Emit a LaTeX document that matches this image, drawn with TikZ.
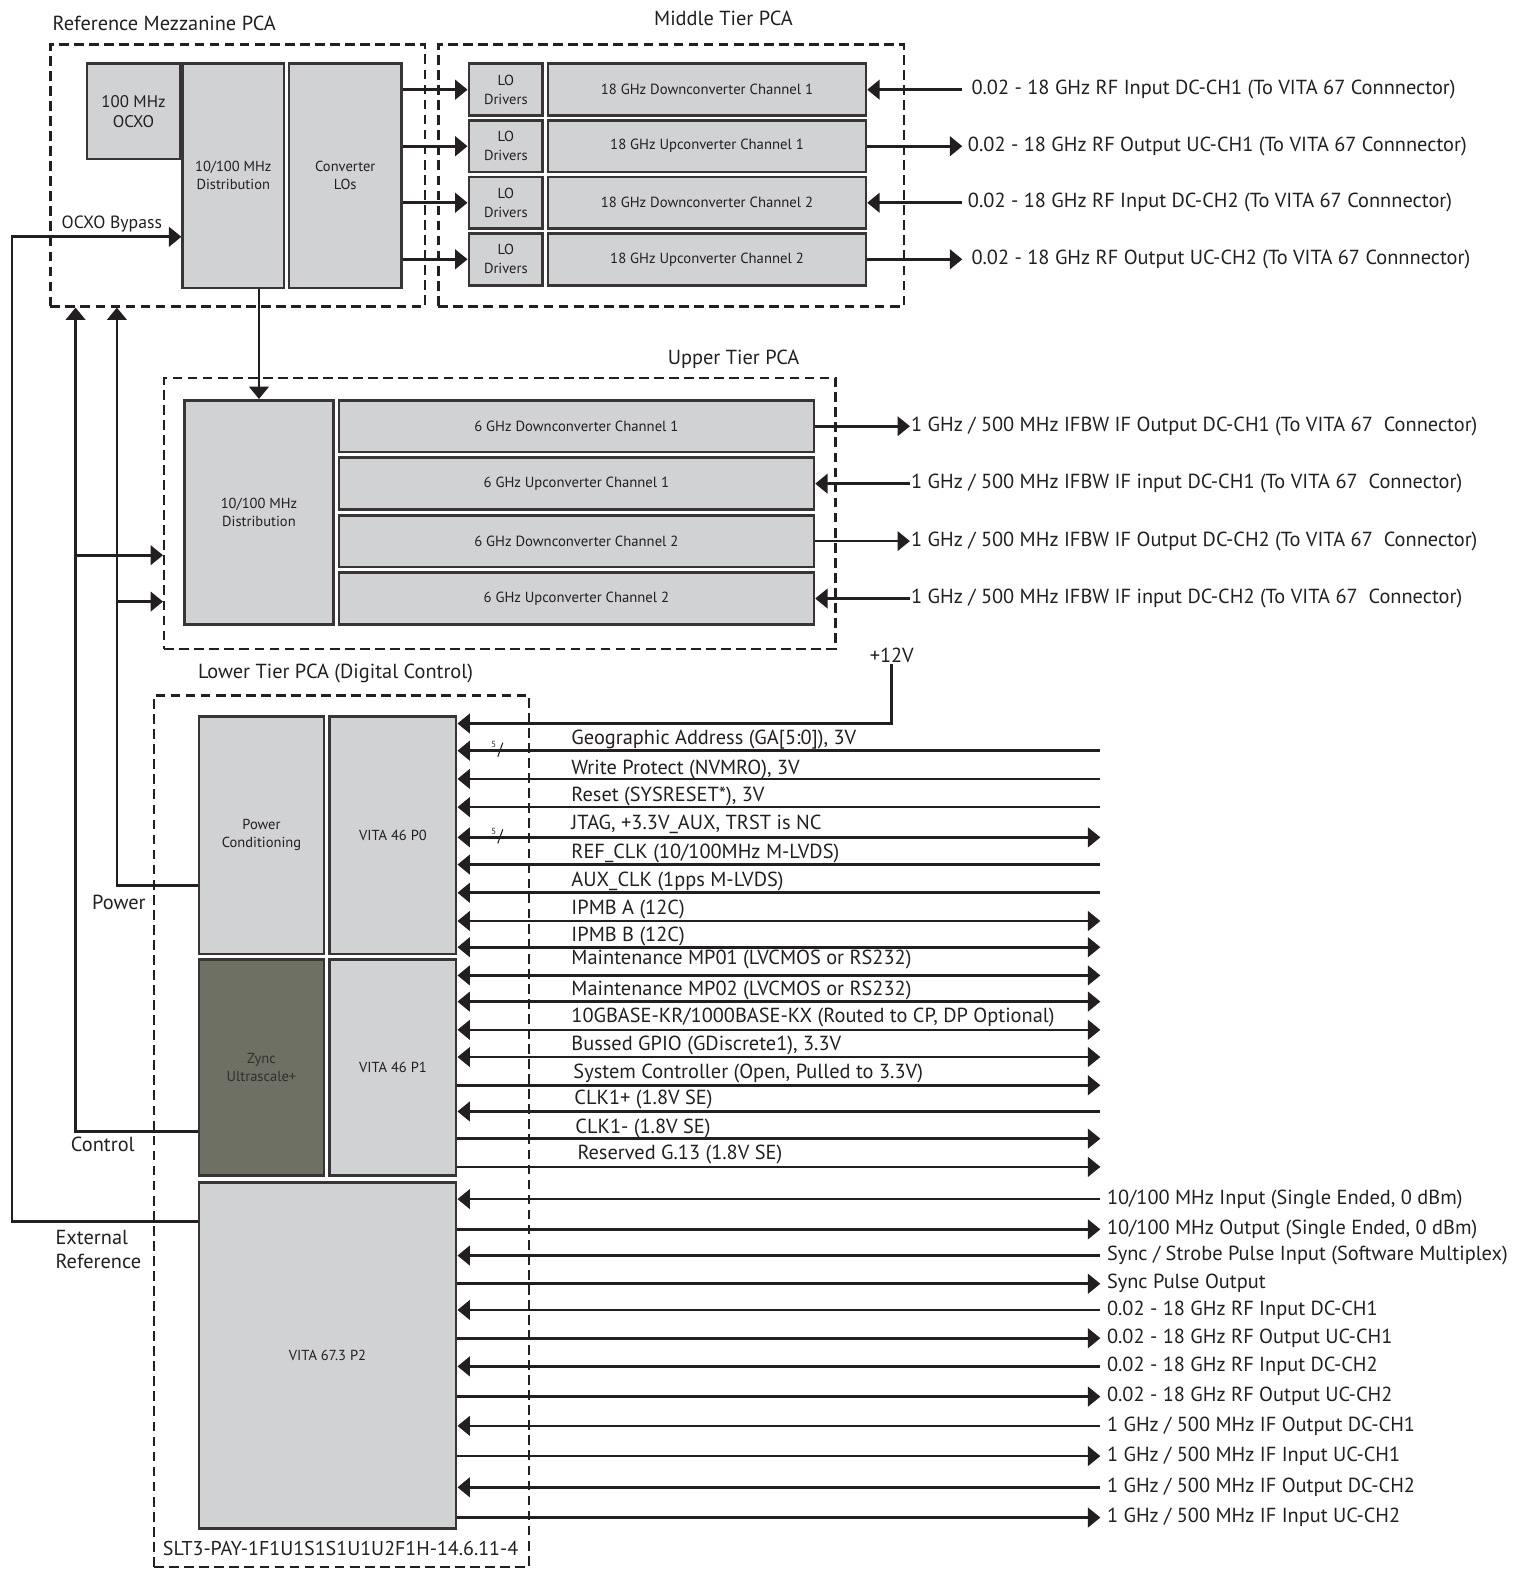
\documentclass[tikz,border=0pt]{standalone}
\usepackage{fontspec}
\setmainfont{PT Sans}
\usetikzlibrary{arrows.meta, positioning, fit, calc}

\definecolor{ink}{RGB}{35,31,32}
\definecolor{boxgray}{RGB}{209,210,212}
\definecolor{zyncgray}{RGB}{110,112,99}

\begin{document}
\begin{tikzpicture}[
    x=0.02cm, y=-0.02cm,
    % --- Sizes (in picture units, outer edge) ---
    sz/.style 2 args = {minimum width=#1*0.02cm-1.5pt, minimum height=#2*0.02cm-1.5pt},
    % --- Node styles ---
    blk/.style = {rectangle, draw=ink!90, line width=1.5pt, fill=boxgray,
        align=center, inner sep=1pt, text=ink, font=\fontsize{8.2}{10.2}\selectfont},
    chan/.style = {blk, font=\fontsize{8.3}{10}\selectfont},
    lodrv/.style = {blk, sz={76}{54}, font=\fontsize{8.2}{10.8}\selectfont},
    grp/.style = {rectangle, draw=ink, line width=1.4pt,
        dash pattern=on 5.5pt off 3pt, inner sep=0pt},
    ttl/.style = {inner sep=1pt, text=ink, font=\fontsize{11.5}{14}\selectfont},
    siglbl/.style = {ttl, anchor=base west},
    p2lbl/.style = {ttl, anchor=west, inner sep=3pt},
    buswd/.style = {inner sep=0pt, text=ink, font=\fontsize{5}{6}\selectfont},
    % --- Arrow styles ---
    arr/.style = {line width=1.5pt, draw=ink, -{Triangle[length=7pt, width=11pt]}},
    sigout/.style = {arr},
    sigin/.style = {line width=1.5pt, draw=ink, {Triangle[length=7pt, width=11pt]}-},
    sigbi/.style = {line width=1.5pt, draw=ink,
        {Triangle[length=7pt, width=11pt]}-{Triangle[length=7pt, width=11pt]}}
]
\useasboundingbox (0,0) rectangle (1510,1568);

% ==================== GROUP BOXES ====================
\node[grp, fit={(50,44) (422,304)}] (refbox) {};
\node[grp, fit={(435,44) (897,304)}] (midbox) {};
\node[grp, fit={(163,375) (829,644)}] (upbox) {};
\node[grp, fit={(153,690) (525,1555)}] (lowbox) {};

\node[ttl] (reftitle) at (163,23) {Reference Mezzanine PCA};
\node[ttl] (midtitle) at (718,18) {Middle Tier PCA};
\node[ttl] (uptitle) at (728,357) {Upper Tier PCA};
\node[ttl] (lowtitle) at (333,668) {Lower Tier PCA (Digital Control)};
\node[ttl, font=\fontsize{11.3}{14}\selectfont] (slot) at (338,1537) {SLT3-PAY-1F1U1S1S1U1U2F1H-14.6.11-4};

% ==================== REFERENCE MEZZANINE ====================
\node[blk, sz={95}{97}, anchor=north west, font=\fontsize{9.5}{11.5}\selectfont] (ocxo) at (85,62) {100 MHz\\OCXO};
\node[blk, sz={103}{225}, anchor=north west] (dist1) at (ocxo.north east) {10/100 MHz\\Distribution};
\node[blk, sz={114}{225}, right=1.5pt of dist1] (conv) {Converter\\LOs};

% ==================== MIDDLE TIER ====================
\node[lodrv, anchor=north west] (lo1) at (464,62) {LO\\Drivers};
\node[lodrv, below=1.2pt of lo1] (lo2) {LO\\Drivers};
\node[lodrv, below=1.2pt of lo2] (lo3) {LO\\Drivers};
\node[lodrv, below=1.2pt of lo3] (lo4) {LO\\Drivers};

\node[chan, sz={318}{54}, right=1.5pt of lo1] (mdc1) {18 GHz Downconverter Channel 1};
\node[chan, sz={318}{54}, right=1.5pt of lo2] (muc1) {18 GHz Upconverter Channel 1};
\node[chan, sz={318}{54}, right=1.5pt of lo3] (mdc2) {18 GHz Downconverter Channel 2};
\node[chan, sz={318}{54}, right=1.5pt of lo4] (muc2) {18 GHz Upconverter Channel 2};

\draw[arr] (conv.east |- lo1) -- (lo1.west);
\draw[arr] (conv.east |- lo2) -- (lo2.west);
\draw[arr] (conv.east |- lo3) -- (lo3.west);
\draw[arr] (conv.east |- lo4) -- (lo4.west);

\coordinate (rf1) at (mdc1.east -| 955,0);
\coordinate (rf2) at (muc1.east -| 955,0);
\coordinate (rf3) at (mdc2.east -| 955,0);
\coordinate (rf4) at (muc2.east -| 955,0);
\draw[arr] (rf1) -- (mdc1.east);
\draw[arr] (muc1.east) -- (rf2);
\draw[arr] (rf3) -- (mdc2.east);
\draw[arr] (muc2.east) -- (rf4);
\node[p2lbl, inner sep=5pt] (rf1lbl) at (rf1) {0.02 - 18 GHz RF Input DC-CH1 (To VITA 67 Connnector)};
\node[p2lbl, inner sep=3pt] (rf2lbl) at (rf2) {0.02 - 18 GHz RF Output UC-CH1 (To VITA 67 Connnector)};
\node[p2lbl, inner sep=3pt] (rf3lbl) at (rf3) {0.02 - 18 GHz RF Input DC-CH2 (To VITA 67 Connnector)};
\node[p2lbl, inner sep=5pt] (rf4lbl) at (rf4) {0.02 - 18 GHz RF Output UC-CH2 (To VITA 67 Connnector)};

% ==================== UPPER TIER ====================
\node[blk, sz={150}{225}, anchor=north west] (dist2) at (182,396) {10/100 MHz\\Distribution};
\node[chan, sz={474}{54}, anchor=north west] (udc1) at (335,396) {6 GHz Downconverter Channel 1};
\node[chan, sz={474}{54}, below=1.7pt of udc1] (uuc1) {6 GHz Upconverter Channel 1};
\node[chan, sz={474}{54}, below=1.7pt of uuc1] (udc2) {6 GHz Downconverter Channel 2};
\node[chan, sz={474}{54}, below=1.7pt of udc2] (uuc2) {6 GHz Upconverter Channel 2};

\draw[arr] (dist1.south -| dist2.north) -- (dist2.north);

\coordinate (if1) at (udc1.east -| 903,0);
\coordinate (if2) at (uuc1.east -| 903,0);
\coordinate (if3) at (udc2.east -| 903,0);
\coordinate (if4) at (uuc2.east -| 903,0);
\draw[arr] (udc1.east) -- (if1);
\draw[arr] (if2) -- (uuc1.east);
\draw[arr] (udc2.east) -- (if3);
\draw[arr] (if4) -- (uuc2.east);
\node[p2lbl, inner sep=0.5pt] (if1lbl) at (if1) {1 GHz / 500 MHz IFBW IF Output DC-CH1 (To VITA 67~ Connector)};
\node[p2lbl, inner sep=0.5pt] (if2lbl) at (if2) {1 GHz / 500 MHz IFBW IF input DC-CH1 (To VITA 67~ Connector)};
\node[p2lbl, inner sep=0.5pt] (if3lbl) at (if3) {1 GHz / 500 MHz IFBW IF Output DC-CH2 (To VITA 67~ Connector)};
\node[p2lbl, inner sep=0.5pt] (if4lbl) at (if4) {1 GHz / 500 MHz IFBW IF input DC-CH2 (To VITA 67~ Connector)};

% ==================== LOWER TIER ====================
\node[blk, sz={127}{238}, anchor=north west] (pwr) at (196,710) {Power\\Conditioning};
\node[blk, sz={128}{238}, right=1.7pt of pwr] (vp0) {VITA 46 P0};
\node[blk, sz={127}{217}, below=1.7pt of pwr, fill=zyncgray, text={rgb,255:red,48;green,48;blue,42}] (zync) {Zync\\Ultrascale+};
\node[blk, sz={128}{217}, right=1.7pt of zync] (vp1) {VITA 46 P1};
\node[blk, sz={258}{346}, anchor=north west] (vp2) at (196,1172) {VITA 67.3 P2};

% --- left side feeds ---
\coordinate (extc) at (12,1212);
\coordinate (bypc) at (12,235);
\draw[arr] (vp2.west |- extc) -- (extc) -- (bypc) -- (dist1.west |- bypc);
\node[ttl, font=\fontsize{10}{12}\selectfont] (byplbl) at (111,222) {OCXO Bypass};
\node[ttl, align=left, anchor=west] (extlbl) at (53,1240) {External\\Reference};

\coordinate (ctlc) at (75,1123);
\coordinate (ctlb) at (75,551);
\draw[arr] (zync.west |- ctlc) -- (ctlc) -- (ctlc |- refbox.south);
\draw[arr] (ctlb) -- (ctlb -| upbox.west);
\node[ttl] (ctllbl) at (102,1136) {Control};

\coordinate (pwrc) at (116,879);
\coordinate (pwrb) at (116,597);
\draw[arr] (pwr.west |- pwrc) -- (pwrc) -- (pwrc |- refbox.south);
\draw[arr] (pwrb) -- (pwrb -| upbox.west);
\node[ttl] (pwrlbl) at (118,896) {Power};

% --- +12V ---
\node[ttl] (v12) at (885,650) {+12V};
\coordinate (p12) at (885,718);
\draw[arr] (v12) -- (p12) -- (vp0.east |- p12);

% --- VITA 46 signals ---
\coordinate (ga) at (1092,745);
\draw[sigin] (vp0.east |- ga) -- (ga);
\node[siglbl] (galbl) at (565,738.5) {Geographic Address (GA[5:0]), 3V};
\node[buswd] (gaw) at (490,739) {5};
\draw[line width=0.6pt, ink] (494,751) -- (499,737);

\coordinate (wp) at (1092,773);
\draw[sigin] (vp0.east |- wp) -- (wp);
\node[siglbl] (wplbl) at (565,768.5) {Write Protect (NVMRO), 3V};

\coordinate (rst) at (1092,801);
\draw[sigin] (vp0.east |- rst) -- (rst);
\node[siglbl] (rstlbl) at (565,795.5) {Reset (SYSRESET*), 3V};

\coordinate (jtag) at (1092,831);
\draw[sigbi] (vp0.east |- jtag) -- (jtag);
\node[siglbl] (jtaglbl) at (565,823.5) {JTAG, +3.3V\_AUX, TRST is NC};
\node[buswd] (jtagw) at (490,825) {5};
\draw[line width=0.6pt, ink] (494,837) -- (499,823);

\coordinate (refclk) at (1092,858);
\draw[sigin] (vp0.east |- refclk) -- (refclk);
\node[siglbl] (refclklbl) at (565,851.5) {REF\_CLK (10/100MHz M-LVDS)};

\coordinate (auxclk) at (1092,886);
\draw[sigin] (vp0.east |- auxclk) -- (auxclk);
\node[siglbl] (auxclklbl) at (565,879.5) {AUX\_CLK (1pps M-LVDS)};

\coordinate (ipa) at (1092,914);
\draw[sigbi] (vp0.east |- ipa) -- (ipa);
\node[siglbl] (ipalbl) at (565,907.5) {IPMB A (12C)};

\coordinate (ipb) at (1092,940);
\draw[sigbi] (vp0.east |- ipb) -- (ipb);
\node[siglbl] (ipblbl) at (565,934.5) {IPMB B (12C)};

\coordinate (mp1) at (1092,968);
\draw[sigbi] (vp1.east |- mp1) -- (mp1);
\node[siglbl] (mp1lbl) at (565,957.5) {Maintenance MP01 (LVCMOS or RS232)};

\coordinate (mp2) at (1092,994);
\draw[sigbi] (vp1.east |- mp2) -- (mp2);
\node[siglbl] (mp2lbl) at (565,987.5) {Maintenance MP02 (LVCMOS or RS232)};

\coordinate (kr) at (1092,1022);
\draw[sigbi] (vp1.east |- kr) -- (kr);
\node[siglbl] (krlbl) at (565,1014.5) {10GBASE-KR/1000BASE-KX (Routed to CP, DP Optional)};

\coordinate (gpio) at (1092,1049);
\draw[sigbi] (vp1.east |- gpio) -- (gpio);
\node[siglbl] (gpiolbl) at (565,1042.5) {Bussed GPIO (GDiscrete1), 3.3V};

\coordinate (sysc) at (1092,1077);
\draw[sigout] (vp1.east |- sysc) -- (sysc);
\node[siglbl] (sysclbl) at (567,1070.5) {System Controller (Open, Pulled to 3.3V)};

\coordinate (clkp) at (1092,1103);
\draw[sigin] (vp1.east |- clkp) -- (clkp);
\node[siglbl] (clkplbl) at (568,1096.5) {CLK1+ (1.8V SE)};

\coordinate (clkn) at (1092,1130);
\draw[sigout] (vp1.east |- clkn) -- (clkn);
\node[siglbl] (clknlbl) at (569,1124.5) {CLK1- (1.8V SE)};

\coordinate (g13) at (1092,1158);
\draw[sigout] (vp1.east |- g13) -- (g13);
\node[siglbl] (g13lbl) at (571,1150.5) {Reserved G.13 (1.8V SE)};

% --- VITA 67.3 signals ---
\coordinate (refin) at (1092,1190);
\draw[sigin] (vp2.east |- refin) -- (refin) node[p2lbl] (refinlbl) {10/100 MHz Input (Single Ended, 0 dBm)};
\coordinate (refout) at (1092,1220);
\draw[sigout] (vp2.east |- refout) -- (refout) node[p2lbl] (refoutlbl) {10/100 MHz Output (Single Ended, 0 dBm)};
\coordinate (syncin) at (1092,1246);
\draw[sigin] (vp2.east |- syncin) -- (syncin) node[p2lbl] (syncinlbl) {Sync / Strobe Pulse Input (Software Multiplex)};
\coordinate (syncout) at (1092,1274);
\draw[sigout] (vp2.east |- syncout) -- (syncout) node[p2lbl] (syncoutlbl) {Sync Pulse Output};
\coordinate (rfin1) at (1092,1300);
\draw[sigin] (vp2.east |- rfin1) -- (rfin1) node[p2lbl] (rfin1lbl) {0.02 - 18 GHz RF Input DC-CH1};
\coordinate (rfout1) at (1092,1328);
\draw[sigout] (vp2.east |- rfout1) -- (rfout1) node[p2lbl] (rfout1lbl) {0.02 - 18 GHz RF Output UC-CH1};
\coordinate (rfin2) at (1092,1356);
\draw[sigin] (vp2.east |- rfin2) -- (rfin2) node[p2lbl] (rfin2lbl) {0.02 - 18 GHz RF Input DC-CH2};
\coordinate (rfout2) at (1092,1386);
\draw[sigout] (vp2.east |- rfout2) -- (rfout2) node[p2lbl] (rfout2lbl) {0.02 - 18 GHz RF Output UC-CH2};
\coordinate (ifout1) at (1092,1415);
\draw[sigin] (vp2.east |- ifout1) -- (ifout1) node[p2lbl] (ifout1lbl) {1 GHz / 500 MHz IF Output DC-CH1};
\coordinate (ifin1) at (1092,1445);
\draw[sigout] (vp2.east |- ifin1) -- (ifin1) node[p2lbl] (ifin1lbl) {1 GHz / 500 MHz IF Input UC-CH1};
\coordinate (ifout2) at (1092,1476);
\draw[sigin] (vp2.east |- ifout2) -- (ifout2) node[p2lbl] (ifout2lbl) {1 GHz / 500 MHz IF Output DC-CH2};
\coordinate (ifin2) at (1092,1506);
\draw[sigout] (vp2.east |- ifin2) -- (ifin2) node[p2lbl] (ifin2lbl) {1 GHz / 500 MHz IF Input UC-CH2};

\end{tikzpicture}
\end{document}
